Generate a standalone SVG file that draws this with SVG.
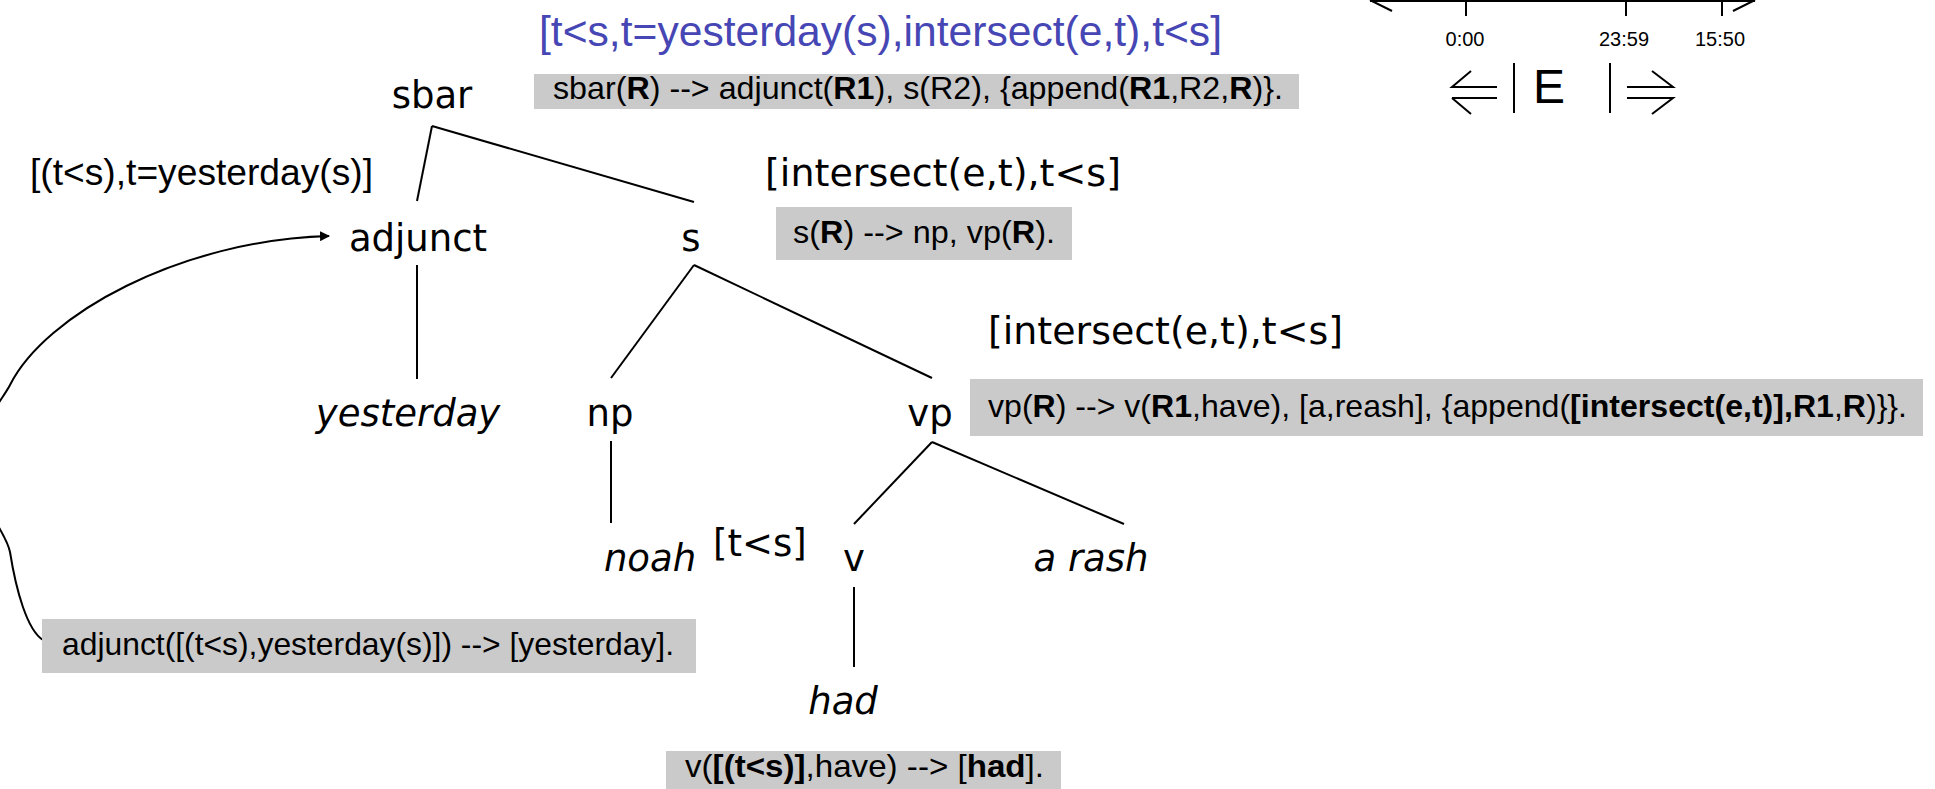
<svg xmlns="http://www.w3.org/2000/svg" width="1935" height="789" viewBox="0 0 1935 789">
<defs>
<style>
.t{font-family:"DejaVu Sans",Verdana,sans-serif;font-size:37px;fill:#000}
.ti{font-family:"DejaVu Sans",Verdana,sans-serif;font-size:37px;font-style:italic;fill:#000}
.a{font-family:"Liberation Sans",Arial,sans-serif;fill:#000}
.box{fill:#CACACA}
.bt{font-family:"Liberation Sans",Arial,sans-serif;font-size:32px;fill:#000}
.ln{stroke:#000;stroke-width:2;fill:none}
.b{font-weight:bold}
</style>
<marker id="ah" markerWidth="10" markerHeight="10" refX="9" refY="5" orient="auto" markerUnits="userSpaceOnUse">
<path d="M0,0 L10,5 L0,10 Z" fill="#000"/>
</marker>
</defs>
<rect width="1935" height="789" fill="#fff"/>

<g id="timeline">
<line class="ln" x1="1370" y1="1" x2="1755" y2="1"/>
<line class="ln" x1="1370" y1="0" x2="1392" y2="11"/>
<line class="ln" x1="1755" y1="0" x2="1733" y2="11"/>
<line class="ln" x1="1466" y1="0" x2="1466" y2="16"/>
<line class="ln" x1="1626" y1="0" x2="1626" y2="16"/>
<line class="ln" x1="1722" y1="0" x2="1722" y2="16"/>
<text class="a" font-size="20" x="1465" y="46" text-anchor="middle">0:00</text>
<text class="a" font-size="20" x="1624" y="46" text-anchor="middle">23:59</text>
<text class="a" font-size="20" x="1720" y="46" text-anchor="middle">15:50</text>
<path class="ln" d="M1471,71 L1452,87 L1497,87 M1452,98 L1497,98 M1452,98 L1471,114"/>
<line class="ln" x1="1514" y1="63" x2="1514" y2="113"/>
<text class="a" font-size="48" x="1533" y="103">E</text>
<line class="ln" x1="1610" y1="63" x2="1610" y2="113"/>
<path class="ln" d="M1652,71 L1673,87 L1627,87 M1627,98 L1673,98 L1652,114"/>
</g>

<g id="connectors">
<line class="ln" x1="432" y1="126" x2="417" y2="201"/>
<line class="ln" x1="432" y1="126" x2="694" y2="202"/>
<line class="ln" x1="417" y1="265" x2="417" y2="379"/>
<line class="ln" x1="694" y1="265" x2="611" y2="378"/>
<line class="ln" x1="694" y1="265" x2="932" y2="378"/>
<line class="ln" x1="611" y1="441" x2="611" y2="523"/>
<line class="ln" x1="932" y1="442" x2="854" y2="524"/>
<line class="ln" x1="932" y1="442" x2="1124" y2="524"/>
<line class="ln" x1="854" y1="587" x2="854" y2="667"/>
<path class="ln" d="M43,640 C27,630 16,590 10,552 C6,530 -25,500 -25,468 C-25,430 3,399 10,385 C45,315 180,240 329,236" marker-end="url(#ah)"/>
</g>

<g id="sbar"><text class="t" x="432" y="108" text-anchor="middle">sbar</text></g>
<g id="sbar-sem"><text class="a" font-size="43" x="539" y="46" style="fill:#4646B4" textLength="683" lengthAdjust="spacingAndGlyphs">[t&lt;s,t=yesterday(s),intersect(e,t),t&lt;s]</text></g>
<g id="sbar-rule">
<rect class="box" x="534" y="74" width="765" height="35"/>
<text class="bt" x="553" y="99" textLength="730" lengthAdjust="spacingAndGlyphs">sbar(<tspan class="b">R</tspan>) --&gt; adjunct(<tspan class="b">R1</tspan>), s(R2), {append(<tspan class="b">R1</tspan>,R2,<tspan class="b">R</tspan>)}.</text>
</g>

<g id="adjunct-sem"><text class="a" font-size="37" x="30" y="185" textLength="343" lengthAdjust="spacingAndGlyphs">[(t&lt;s),t=yesterday(s)]</text></g>
<g id="adjunct"><text class="t" x="418" y="251" text-anchor="middle">adjunct</text></g>
<g id="s"><text class="t" x="691" y="251" text-anchor="middle">s</text></g>
<g id="s-sem"><text class="t" x="765" y="186" textLength="356" lengthAdjust="spacingAndGlyphs">[intersect(e,t),t&lt;s]</text></g>
<g id="s-rule">
<rect class="box" x="776" y="207" width="296" height="53"/>
<text class="bt" x="793" y="243" textLength="262" lengthAdjust="spacingAndGlyphs">s(<tspan class="b">R</tspan>) --&gt; np, vp(<tspan class="b">R</tspan>).</text>
</g>

<g id="yesterday"><text class="ti" x="408" y="426" text-anchor="middle">yesterday</text></g>
<g id="np"><text class="t" x="610" y="426" text-anchor="middle">np</text></g>
<g id="vp"><text class="t" x="930" y="426" text-anchor="middle">vp</text></g>
<g id="vp-sem"><text class="t" x="988" y="344" textLength="355" lengthAdjust="spacingAndGlyphs">[intersect(e,t),t&lt;s]</text></g>
<g id="vp-rule">
<rect class="box" x="970" y="379" width="953" height="57"/>
<text class="bt" x="988" y="417" textLength="919" lengthAdjust="spacingAndGlyphs">vp(<tspan class="b">R</tspan>) --&gt; v(<tspan class="b">R1</tspan>,have), [a,reash], {append(<tspan class="b">[intersect(e,t)],R1</tspan>,<tspan class="b">R</tspan>)}}.</text>
</g>

<g id="noah"><text class="ti" x="650" y="571" text-anchor="middle">noah</text></g>
<g id="v-sem"><text class="t" x="713" y="556">[t&lt;s]</text></g>
<g id="v"><text class="t" x="854" y="571" text-anchor="middle">v</text></g>
<g id="arash"><text class="ti" x="1091" y="571" text-anchor="middle">a rash</text></g>
<g id="had"><text class="ti" x="843" y="714" text-anchor="middle">had</text></g>

<g id="adjunct-rule">
<rect class="box" x="42" y="619" width="654" height="54"/>
<text class="bt" x="62" y="655" textLength="612" lengthAdjust="spacingAndGlyphs">adjunct([(t&lt;s),yesterday(s)]) --&gt; [yesterday].</text>
</g>

<g id="v-rule">
<rect class="box" x="666" y="751" width="395" height="38"/>
<text class="bt" x="685" y="777" textLength="359" lengthAdjust="spacingAndGlyphs">v(<tspan class="b">[(t&lt;s)]</tspan>,have) --&gt; [<tspan class="b">had</tspan>].</text>
</g>
</svg>
